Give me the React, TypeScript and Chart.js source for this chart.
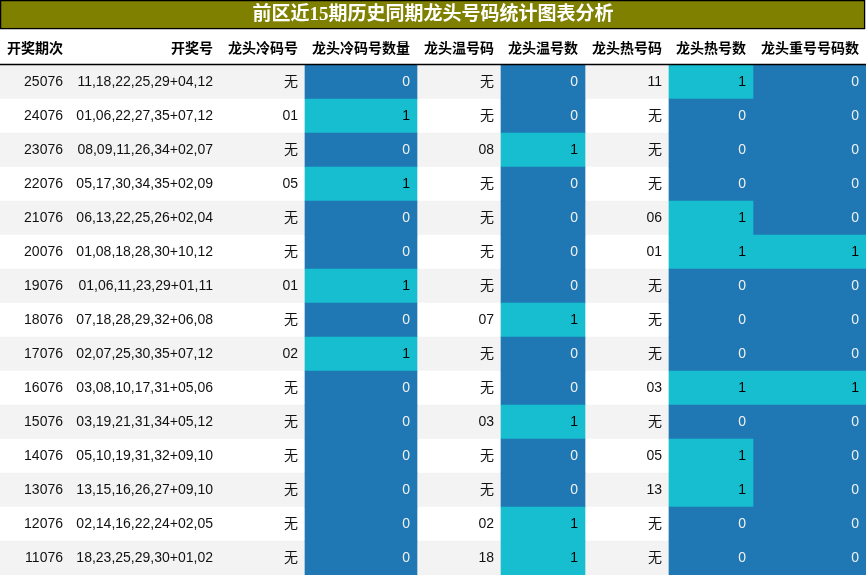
import React, { useEffect, useRef } from 'react';
import Chart from 'chart.js/auto';

const TITLE = '前区近15期历史同期龙头号码统计图表分析';
const HEADERS = ['开奖期次', '开奖号', '龙头冷码号', '龙头冷码号数量', '龙头温号码', '龙头温号数', '龙头热号码', '龙头热号数', '龙头重号号码数'];

const PERIODS = ['25076', '24076', '23076', '22076', '21076', '20076', '19076', '18076', '17076', '16076', '15076', '14076', '13076', '12076', '11076'];
const DRAW_NUMBERS = [
    '11,18,22,25,29+04,12', '01,06,22,27,35+07,12', '08,09,11,26,34+02,07', '05,17,30,34,35+02,09', '06,13,22,25,26+02,04',
    '01,08,18,28,30+10,12', '01,06,11,23,29+01,11', '07,18,28,29,32+06,08', '02,07,25,30,35+07,12', '03,08,10,17,31+05,06',
    '03,19,21,31,34+05,12', '05,10,19,31,32+09,10', '13,15,16,26,27+09,10', '02,14,16,22,24+02,05', '18,23,25,29,30+01,02',
];
const COLD_CODES = ['无', '01', '无', '05', '无', '无', '01', '无', '02', '无', '无', '无', '无', '无', '无'];
const COLD_COUNTS = [0, 1, 0, 1, 0, 0, 1, 0, 1, 0, 0, 0, 0, 0, 0];
const WARM_CODES = ['无', '无', '08', '无', '无', '无', '无', '07', '无', '无', '03', '无', '无', '02', '18'];
const WARM_COUNTS = [0, 0, 1, 0, 0, 0, 0, 1, 0, 0, 1, 0, 0, 1, 1];
const HOT_CODES = ['11', '无', '无', '无', '06', '01', '无', '无', '无', '03', '无', '05', '13', '无', '无'];
const HOT_COUNTS = [1, 0, 0, 0, 1, 1, 0, 0, 0, 1, 0, 1, 1, 0, 0];
const REPEAT_COUNTS = [0, 0, 0, 0, 0, 1, 0, 0, 0, 1, 0, 0, 0, 0, 0];

// layout: column edges along the x scale (pixels of an 866 wide table)
const COL_EDGES = [0, 70, 220, 305, 417, 501, 585, 669, 753, 866];
const TABLE_WIDTH = 866;

const BLUE = '#1f77b4';
const CYAN = '#17becf';
const OLIVE = '#808000';
const STRIPE = '#f3f3f3';

const COLUMNS: (string | number)[][] = [PERIODS, DRAW_NUMBERS, COLD_CODES, COLD_COUNTS, WARM_CODES, WARM_COUNTS, HOT_CODES, HOT_COUNTS, REPEAT_COUNTS];
const COUNT_COLS = [3, 5, 7, 8];

const tablePlugin = {
    id: 'tableText',
    afterDatasetsDraw(chart: any) {
        const { ctx, scales: { x, y }, chartArea } = chart;
        ctx.save();
        ctx.textAlign = 'right';
        ctx.textBaseline = 'middle';

        // body cells
        COLUMNS.forEach((col, c) => {
            const right = x.getPixelForValue(COL_EDGES[c + 1]) - 7;
            const isCount = COUNT_COLS.includes(c);
            col.forEach((v, i) => {
                const cy = y.getPixelForValue(i);
                if (isCount) ctx.fillStyle = Number(v) > 0 ? '#000000' : '#f1f1f1';
                else ctx.fillStyle = '#111111';
                ctx.font = "14px 'Liberation Sans', 'Noto Sans CJK SC', sans-serif";
                ctx.fillText(String(v), right, cy);
            });
        });

        // header row
        ctx.fillStyle = '#000000';
        ctx.font = "bold 14px 'Noto Sans CJK SC', sans-serif";
        HEADERS.forEach((h, c) => {
            ctx.fillText(h, x.getPixelForValue(COL_EDGES[c + 1]) - 7, chartArea.top - 17);
        });
        ctx.strokeStyle = '#000000';
        ctx.lineWidth = 1.3;
        ctx.beginPath();
        ctx.moveTo(chartArea.left, chartArea.top - 0.5);
        ctx.lineTo(chartArea.right, chartArea.top - 0.5);
        ctx.stroke();

        // title bar
        ctx.fillStyle = OLIVE;
        ctx.fillRect(0, 0, TABLE_WIDTH - 1, 29);
        ctx.strokeRect(0.6, 0.6, TABLE_WIDTH - 2, 28);
        ctx.fillStyle = '#ffffff';
        ctx.textAlign = 'center';
        ctx.font = "bold 19px 'Liberation Serif', 'Noto Sans CJK SC', serif";
        ctx.fillText(TITLE, TABLE_WIDTH / 2, 15);
        ctx.restore();
    },
};

export default function App() {
    const chartRef = useRef<HTMLCanvasElement | null>(null);

    useEffect(() => {
        let chartInstance: Chart | null = null;
        if (chartRef.current) {
            const ctx = chartRef.current.getContext('2d');
            if (ctx) {
                const cellSets = COUNT_COLS.map(c => {
                    const counts = COLUMNS[c] as number[];
                    return {
                        label: HEADERS[c],
                        data: counts.map(() => [COL_EDGES[c], COL_EDGES[c + 1]]),
                        backgroundColor: counts.map(v => (v > 0 ? CYAN : BLUE)),
                    };
                });
                chartInstance = new Chart(ctx, {
                    type: 'bar',
                    data: {
                        labels: PERIODS,
                        datasets: [
                            ...cellSets,
                            {
                                label: 'rows',
                                data: PERIODS.map(() => [0, TABLE_WIDTH]),
                                backgroundColor: PERIODS.map((_, i) => (i % 2 === 0 ? STRIPE : '#ffffff')),
                            },
                        ] as any,
                    },
                    options: {
                        indexAxis: 'y',
                        animation: false,
                        responsive: true,
                        maintainAspectRatio: false,
                        layout: { padding: { top: 65, bottom: 1, left: 0, right: 0 } },
                        datasets: { bar: { barPercentage: 1, categoryPercentage: 1, grouped: false, borderWidth: 0, borderSkipped: false } },
                        scales: {
                            x: { type: 'linear', min: 0, max: TABLE_WIDTH, display: false },
                            y: { type: 'category', display: false, offset: true },
                        },
                        plugins: { legend: { display: false }, tooltip: { enabled: false }, title: { display: false } },
                    } as any,
                    plugins: [tablePlugin],
                });
            }
        }
        return () => {
            if (chartInstance) chartInstance.destroy();
        };
    }, []);

    return (
        <div style={{ position: 'fixed', left: 0, top: 0, width: 866, height: 576, background: '#ffffff' }}>
            <canvas ref={chartRef}></canvas>
        </div>
    );
}
